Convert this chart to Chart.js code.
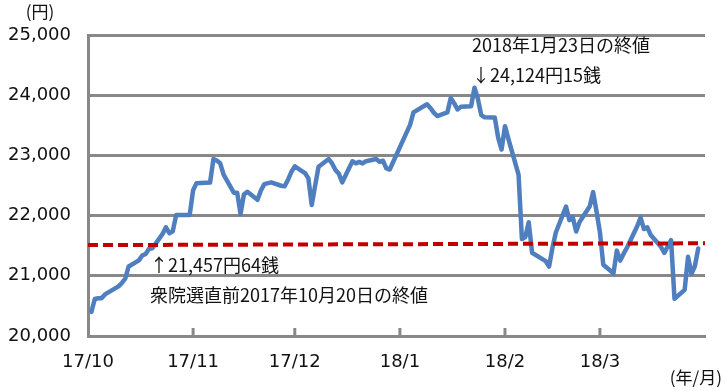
<!DOCTYPE html>
<html>
<head>
<meta charset="utf-8">
<script src="https://cdn.jsdelivr.net/npm/chart.js@4.4.1/dist/chart.umd.min.js"></script>
<style>
  body { margin: 0; background: #fff; }
  #wrap { width: 726px; height: 391px; position: relative; }
</style>
</head>
<body>
<div id="wrap"><canvas id="c"></canvas></div>
<script>
// trading days and closes (yen)
var tradeDates = [
  '2017-10-02','2017-10-03','2017-10-04','2017-10-05','2017-10-06','2017-10-10','2017-10-11','2017-10-12','2017-10-13',
  '2017-10-16','2017-10-17','2017-10-18','2017-10-19','2017-10-20','2017-10-23','2017-10-24','2017-10-25','2017-10-26',
  '2017-10-27','2017-10-30','2017-10-31',
  '2017-11-01','2017-11-02','2017-11-06','2017-11-07','2017-11-08','2017-11-09','2017-11-10','2017-11-13','2017-11-14',
  '2017-11-15','2017-11-16','2017-11-17','2017-11-20','2017-11-21','2017-11-22','2017-11-24','2017-11-27','2017-11-28',
  '2017-11-29','2017-11-30',
  '2017-12-01','2017-12-04','2017-12-05','2017-12-06','2017-12-07','2017-12-08','2017-12-11','2017-12-12','2017-12-13',
  '2017-12-14','2017-12-15','2017-12-18','2017-12-19','2017-12-20','2017-12-21','2017-12-22','2017-12-25','2017-12-26',
  '2017-12-27','2017-12-28','2017-12-29',
  '2018-01-04','2018-01-05','2018-01-09','2018-01-10','2018-01-11','2018-01-12','2018-01-15','2018-01-16','2018-01-17',
  '2018-01-18','2018-01-19','2018-01-22','2018-01-23','2018-01-24','2018-01-25','2018-01-26','2018-01-29','2018-01-30',
  '2018-01-31',
  '2018-02-01','2018-02-02','2018-02-05','2018-02-06','2018-02-07','2018-02-08','2018-02-09','2018-02-13','2018-02-14',
  '2018-02-15','2018-02-16','2018-02-19','2018-02-20','2018-02-21','2018-02-22','2018-02-23','2018-02-26','2018-02-27',
  '2018-02-28',
  '2018-03-01','2018-03-02','2018-03-05','2018-03-06','2018-03-07','2018-03-08','2018-03-09','2018-03-12','2018-03-13',
  '2018-03-14','2018-03-15','2018-03-16','2018-03-19','2018-03-20','2018-03-22','2018-03-23','2018-03-26','2018-03-27',
  '2018-03-28','2018-03-29','2018-03-30'
];
var closes = [
  20401,20614,20627,20629,20691,20824,20881,20955,21155,
  21256,21336,21363,21449,21458,21697,21805,21708,21740,
  22008,22012,22012,
  22420,22539,22548,22938,22914,22869,22681,22381,22380,
  22028,22351,22397,22262,22416,22523,22551,22496,22486,
  22597,22725,
  22819,22707,22622,22177,22498,22811,22939,22866,22758,
  22694,22553,22902,22868,22892,22866,22903,22939,22893,
  22911,22784,22765,
  23506,23715,23850,23788,23710,23654,23715,23952,23868,
  23763,23808,23816,24124,23941,23669,23632,23629,23292,
  23098,
  23486,23275,22682,21610,21645,21891,21383,21245,21154,
  21465,21720,22149,21925,21971,21736,21893,22154,22390,
  22068,
  21724,21182,21042,21418,21253,21368,21469,21824,21968,
  21777,21804,21677,21481,21381,21592,20618,20766,21317,
  21031,21159,21454
];
// reference level line (as drawn), start / end of axis
var refLine = [21510, 21540];

var monthLabels = ['17/10','17/11','17/12','18/1','18/2','18/3'];
var monthStarts = ['2017-10-01','2017-11-01','2017-12-01','2018-01-01','2018-02-01','2018-03-01'];
var axisEnd = '2018-04-01';
var yTicks = [20000, 21000, 22000, 23000, 24000, 25000];

var origin = Date.UTC(2017, 9, 1);
function dayNo(s) {
  var p = s.split('-');
  return Math.round((Date.UTC(+p[0], +p[1] - 1, +p[2]) - origin) / 86400000);
}
var monthPos = monthStarts.map(dayNo);
var xMax = dayNo(axisEnd);

var GREY = '#888888';

var extras = {
  id: 'extras',
  beforeDatasetsDraw: function(chart) {
    var ctx = chart.ctx, xs = chart.scales.x, bottom = chart.chartArea.bottom;
    ctx.save();
    ctx.strokeStyle = GREY;
    ctx.lineWidth = 3;
    monthPos.forEach(function(v, i) {
      if (i === 0) return;
      var px = xs.getPixelForValue(v);
      ctx.beginPath();
      ctx.moveTo(px, bottom);
      ctx.lineTo(px, bottom - 8);
      ctx.stroke();
    });
    ctx.restore();
  },
  afterDraw: function(chart) {
    var ctx = chart.ctx;
    ctx.save();
    ctx.fillStyle = '#111';
    ctx.textBaseline = 'middle';
    ctx.font = '18px "Noto Sans CJK JP"';
    ctx.fillText('2018年1月23日の終値', 472, 45);
    ctx.fillText('↓24,124円15銭', 472, 75);
    ctx.fillText('↑21,457円64銭', 150, 265);
    ctx.fillText('衆院選直前2017年10月20日の終値', 150, 295);
    ctx.font = '17px "Noto Sans CJK JP"';
    ctx.textAlign = 'center';
    ctx.fillText('(円)', 40, 12);
    ctx.textAlign = 'right';
    ctx.fillText('(年/月)', 722, 378);
    ctx.restore();
  }
};

var ctx = document.getElementById('c').getContext('2d');
var chart = new Chart(ctx, {
  type: 'line',
  data: {
    datasets: [{
      data: [{x: 0, y: refLine[0]}, {x: xMax, y: refLine[1]}],
      borderColor: '#C00000',
      borderWidth: 4,
      borderDash: [10, 5],
      pointRadius: 0,
      order: 0
    }, {
      data: tradeDates.map(function(d, i) { return {x: dayNo(d), y: closes[i]}; }),
      borderColor: '#4F7FBE',
      borderWidth: 4.5,
      borderJoinStyle: 'round',
      borderCapStyle: 'round',
      pointRadius: 0,
      tension: 0,
      order: 1
    }]
  },
  options: {
    responsive: true,
    maintainAspectRatio: false,
    animation: false,
    layout: { padding: { top: 35, right: 21, left: 0, bottom: 0 } },
    plugins: { legend: { display: false }, tooltip: { enabled: false } },
    scales: {
      x: {
        type: 'linear',
        min: 0,
        max: xMax,
        grid: { display: false },
        border: { display: true, color: GREY, width: 3 },
        afterBuildTicks: function(scale) {
          scale.ticks = monthPos.map(function(v) { return {value: v}; });
        },
        afterFit: function(scale) { scale.height = 55; },
        ticks: {
          autoSkip: false,
          maxRotation: 0,
          padding: 8,
          color: '#111',
          font: { family: 'DejaVu Sans', size: 18 },
          callback: function(v) { return monthLabels[monthPos.indexOf(v)]; }
        }
      },
      y: {
        min: 20000,
        max: 25000,
        afterBuildTicks: function(scale) {
          scale.ticks = yTicks.map(function(v) { return {value: v}; });
        },
        afterFit: function(scale) { scale.width = 88; },
        grid: { color: GREY, lineWidth: 3, drawTicks: false },
        border: { display: true, color: GREY, width: 3 },
        ticks: {
          padding: 17,
          color: '#111',
          font: { family: 'DejaVu Sans', size: 18 },
          callback: function(v) { return v.toLocaleString('en-US'); }
        }
      }
    }
  },
  plugins: [extras]
});
</script>
</body>
</html>
